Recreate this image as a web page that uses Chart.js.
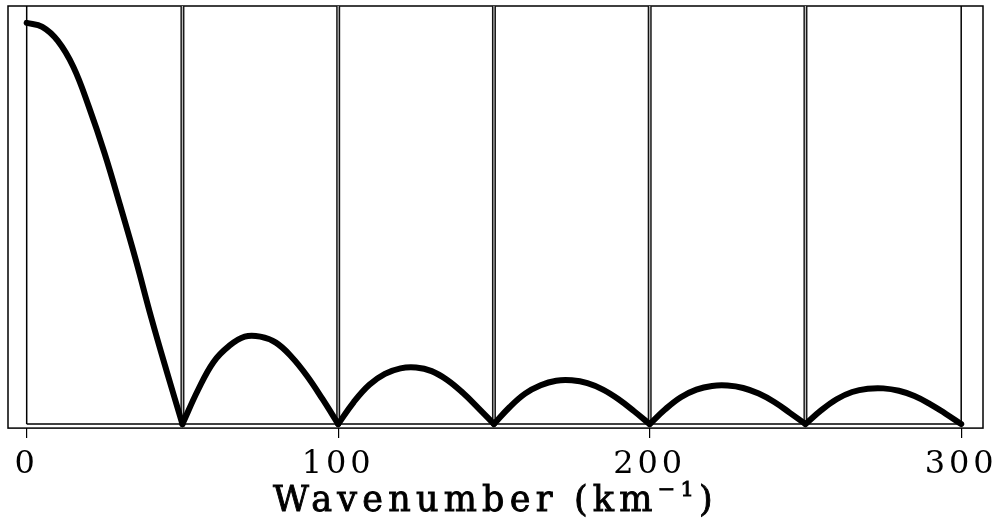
<!DOCTYPE html>
<html>
<head>
<meta charset="utf-8">
<script src="https://cdn.jsdelivr.net/npm/chart.js@4.4.1/dist/chart.umd.min.js"></script>
<style>
  html, body { margin: 0; padding: 0; background: #fff; }
  #wrap { width: 1000px; height: 518px; }
</style>
</head>
<body>
<div id="wrap"><canvas id="spectrum"></canvas></div>
<script>
// values
const wavenumber = [
  0, 5, 10, 15, 20, 25, 30, 35, 40, 45,
  50, 55, 60, 65, 70, 75, 80, 85, 90, 95,
  100, 105, 110, 115, 120, 125, 130, 135, 140, 145,
  150, 155, 160, 165, 170, 175, 180, 185, 190, 195,
  200, 205, 210, 215, 220, 225, 230, 235, 240, 245,
  250, 255, 260, 265, 270, 275, 280, 285, 290, 295,
  300
];
const amplitude = [
  1.0, 0.99, 0.955, 0.89, 0.79, 0.675, 0.545, 0.41, 0.265, 0.13,
  0, 0.085, 0.155, 0.195, 0.218, 0.218, 0.203, 0.168, 0.12, 0.062,
  0, 0.055, 0.098, 0.125, 0.139, 0.141, 0.132, 0.11, 0.078, 0.04,
  0, 0.042, 0.076, 0.097, 0.108, 0.109, 0.102, 0.086, 0.062, 0.032,
  0, 0.037, 0.067, 0.086, 0.095, 0.096, 0.09, 0.076, 0.055, 0.028,
  0, 0.034, 0.062, 0.08, 0.088, 0.089, 0.083, 0.07, 0.05, 0.026,
  0
];
const combLines = [50, 100, 150, 200, 250];
const edgeLines = [0, 300];
const tickValues = [0, 100, 200, 300];
const xTitle = 'Wavenumber (km';
const xTitleSup = '\u22121';

const Y_MIN = -0.01;
const Y_MAX = 1.042;

// split the curve at its zeros so every V keeps a sharp bottom
const lobes = [];
let cur = [];
wavenumber.forEach((k, i) => {
  cur.push({ x: k, y: amplitude[i] });
  if (amplitude[i] === 0 && cur.length > 1) {
    lobes.push(cur);
    cur = [{ x: k, y: 0 }];
  }
});

function verticals(xs) {
  const pts = [];
  xs.forEach(k => {
    pts.push({ x: k, y: 0 }, { x: k, y: Y_MAX }, { x: k, y: null });
  });
  return pts;
}

const lineStyle = { pointRadius: 0, fill: false, spanGaps: false, tension: 0 };

const datasets = lobes.map(pts => ({
  ...lineStyle,
  data: pts,
  borderColor: '#000',
  borderWidth: 6,
  tension: 0.4,
  borderCapStyle: 'round',
  borderJoinStyle: 'round',
  order: 0
}));
datasets.push({ ...lineStyle, data: verticals(combLines), borderColor: '#bdbdbd', borderWidth: 1.2, order: 1 });
datasets.push({ ...lineStyle, data: verticals(combLines), borderColor: '#111', borderWidth: 4, order: 2 });
datasets.push({ ...lineStyle, data: verticals(edgeLines), borderColor: '#000', borderWidth: 1.5, order: 3 });
datasets.push({ ...lineStyle, data: [{ x: 0, y: 0 }, { x: 300, y: 0 }], borderColor: '#000', borderWidth: 1.5, order: 4 });

const framePlugin = {
  id: 'frame',
  beforeDraw(chart) {
    // a bit of extra tracking for the tick digits, like the typewriter original
    chart.ctx.letterSpacing = '4px';
  },
  beforeDatasetsDraw(chart) {
    const { ctx, chartArea: a } = chart;
    ctx.save();
    ctx.strokeStyle = '#000';
    ctx.lineWidth = 1.5;
    ctx.strokeRect(a.left, a.top, a.right - a.left, a.bottom - a.top);
    ctx.restore();
  }
};

const titlePlugin = {
  id: 'xtitle',
  afterDraw(chart) {
    const ctx = chart.ctx;
    const big = '35px "DejaVu Serif"';
    const small = '21px "DejaVu Serif"';
    const target = 445;
    ctx.save();
    ctx.fillStyle = '#000';
    ctx.strokeStyle = '#000';
    ctx.lineWidth = 0.9;
    ctx.textBaseline = 'alphabetic';
    ctx.textAlign = 'left';
    ctx.letterSpacing = '0px';
    ctx.font = big;
    const raw = ctx.measureText(xTitle + ')').width;
    ctx.font = small;
    const rawSup = ctx.measureText(xTitleSup).width;
    const gap = Math.max(0, (target - raw - rawSup) / (xTitle.length + 3));
    ctx.letterSpacing = gap + 'px';
    ctx.font = big;
    const main = ctx.measureText(xTitle).width;
    ctx.font = small;
    const sup = ctx.measureText(xTitleSup).width;
    const cx = (chart.chartArea.left + chart.chartArea.right) / 2;
    let x = cx - target / 2;
    const y = 511;
    // fill plus a thin stroke gives the heavier typewriter look of the original
    const put = (txt, px, py) => { ctx.fillText(txt, px, py); ctx.strokeText(txt, px, py); };
    ctx.font = big;
    put(xTitle, x, y);
    x += main;
    ctx.font = small;
    put(xTitleSup, x, y - 15);
    x += sup;
    ctx.font = big;
    put(')', x, y);
    ctx.restore();
  }
};

new Chart(document.getElementById('spectrum'), {
  type: 'line',
  data: { datasets: datasets },
  options: {
    responsive: true,
    maintainAspectRatio: false,
    animation: false,
    layout: { padding: { left: 8, right: 17, top: 6, bottom: 27.5 } },
    plugins: {
      legend: { display: false },
      title: { display: false },
      tooltip: { enabled: false }
    },
    scales: {
      x: {
        type: 'linear',
        min: -6,
        max: 307,
        border: { display: false },
        grid: {
          drawOnChartArea: false,
          drawTicks: true,
          tickLength: 10,
          color: '#000',
          lineWidth: 1.2
        },
        afterBuildTicks(scale) {
          scale.ticks = tickValues.map(v => ({ value: v }));
        },
        ticks: {
          padding: 7,
          maxRotation: 0,
          color: '#000',
          font: { family: '"DejaVu Serif"', size: 32 }
        }
      },
      y: {
        type: 'linear',
        display: false,
        min: Y_MIN,
        max: Y_MAX
      }
    }
  },
  plugins: [framePlugin, titlePlugin]
});
</script>
</body>
</html>
